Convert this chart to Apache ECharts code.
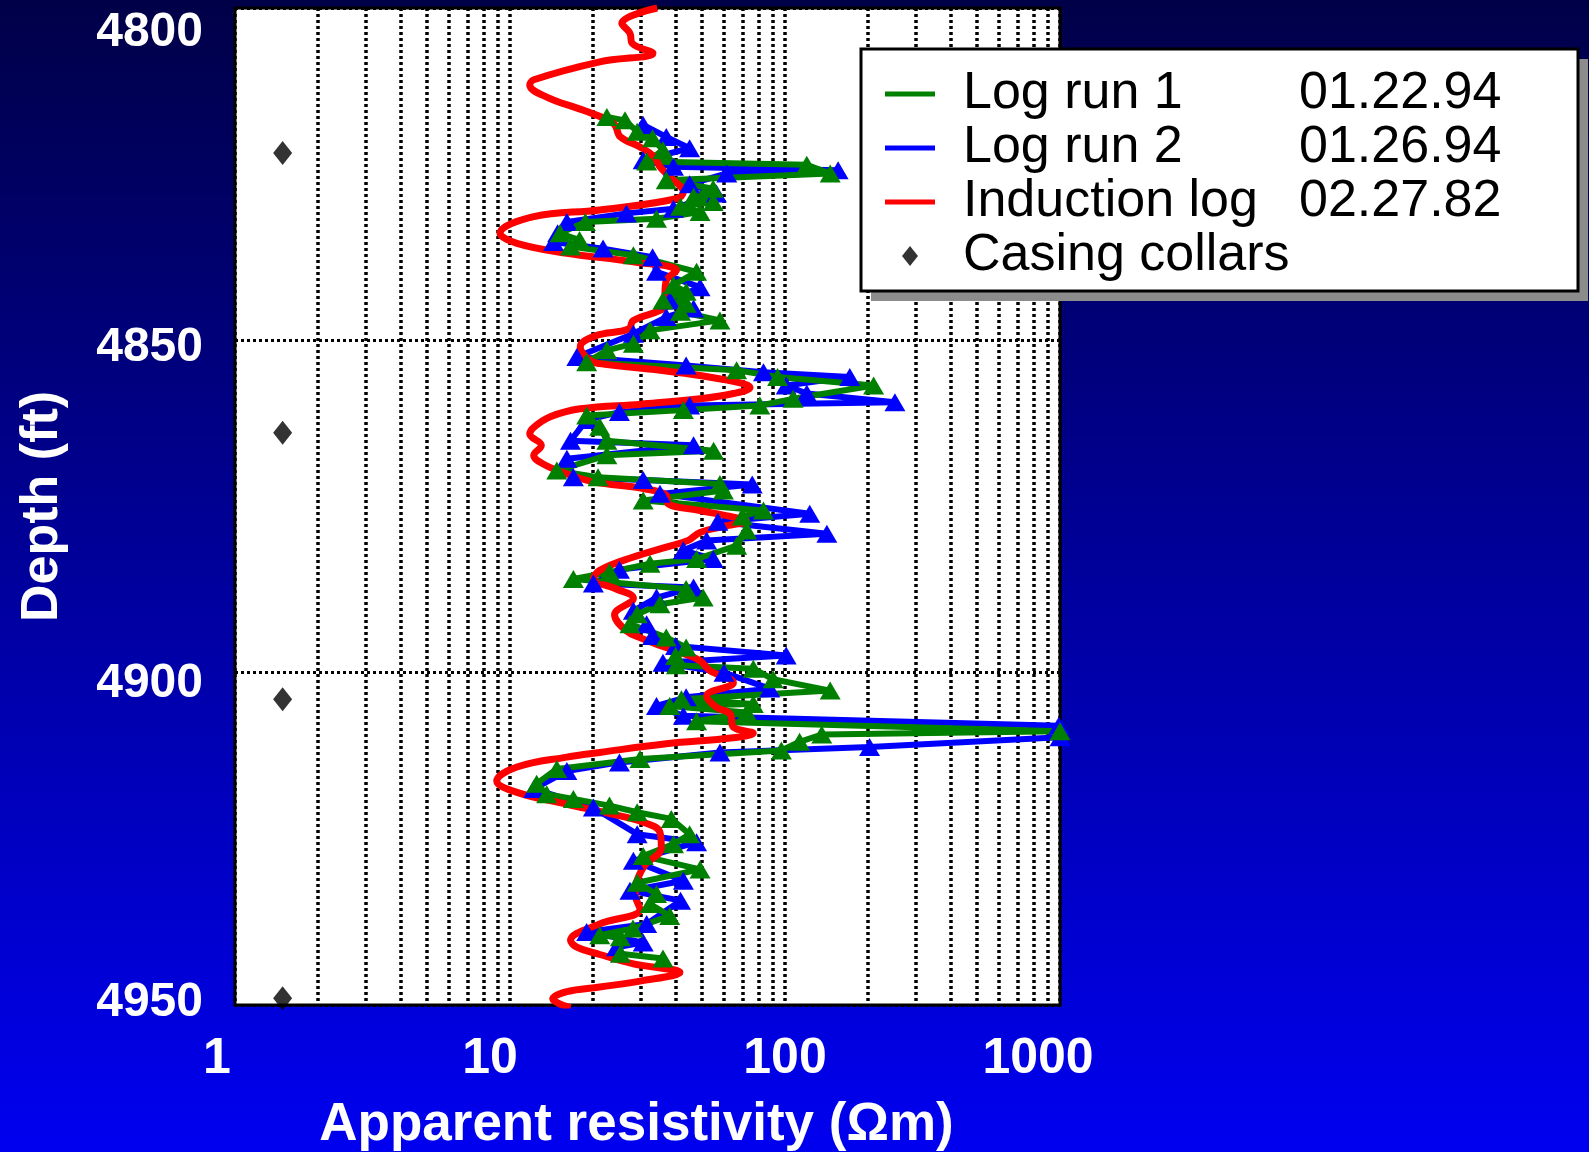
<!DOCTYPE html>
<html>
<head>
<meta charset="utf-8">
<title>Apparent resistivity vs depth</title>
<script src="https://cdn.jsdelivr.net/npm/echarts@6.0.0/dist/echarts.min.js"></script>
<style>
    html, body { margin: 0; padding: 0; }
    #ResistivityLog { width: 1589px; height: 1152px; }
</style>
</head>
<body>
<div id="ResistivityLog"></div>
<script>
// depth (ft) and apparent resistivity (ohm-m)
const run1Depth = [4816.4, 4816.9, 4818.6, 4819.6, 4821.4, 4823.1, 4823.6, 4824.9, 4825.9, 4827.2,
    4828.4, 4829.2, 4829.9, 4830.7, 4831.7, 4832.2, 4833.9, 4834.9, 4835.9, 4837.2,
    4839.7, 4841.7, 4842.7, 4844.0, 4844.5, 4845.7, 4847.0, 4848.5, 4850.5, 4851.5,
    4853.3, 4854.5, 4855.5, 4856.8, 4858.8, 4859.8, 4860.5, 4861.3, 4863.0, 4865.1,
    4866.6, 4867.3, 4869.6, 4870.6, 4871.6, 4872.6, 4874.1, 4875.6, 4876.5, 4878.6,
    4880.9, 4882.9, 4883.6, 4884.9, 4885.9, 4887.4, 4888.7, 4889.7, 4891.2, 4892.7,
    4894.7, 4896.2, 4897.5, 4898.9, 4899.4, 4901.0, 4902.7, 4904.0, 4904.7, 4905.0,
    4906.0, 4907.3, 4908.8, 4909.3, 4910.4, 4911.7, 4913.0, 4914.5, 4916.7, 4918.3,
    4919.0, 4920.0, 4921.0, 4922.0, 4924.3, 4925.8, 4927.6, 4929.6, 4931.6, 4933.3,
    4934.8, 4936.6, 4938.5, 4939.5, 4939.8, 4942.3, 4943.0];
const run1Res = [22.5, 26.2, 29.0, 33, 36.0, 31.4, 120, 146, 37.0, 54.8,
    46.5, 54.8, 41.7, 49.1, 34.1, 18.8, 15.2, 17.9, 16.6, 28.1,
    47.7, 39.3, 43.7, 36.0, 43.7, 41.7, 58.0, 32.3, 28.1, 22.5,
    19.0, 66.7, 94, 210, 107, 81, 42.7, 19.0, 21.2, 22.5,
    55, 22.5, 14.8, 20.9, 58, 59.7, 30.5, 83.5, 70, 72.6,
    66.7, 47.7, 32.3, 23.0, 17.0, 43.7, 50.4, 35.1, 29.0, 27.3,
    37.0, 43.7, 40, 40.3, 76.7, 90.5, 146, 42, 76.7, 38.1,
    72.6, 47.7, 1000, 136, 113, 97, 29.7, 14.8, 12.5, 13.6,
    17.0, 23.0, 29.0, 38.6, 45.0, 39.3, 30.5, 49.1, 29.0, 34.1,
    32.3, 38.1, 28, 21.2, 25.2, 25.2, 36.0];

const run2Depth = [4817.6, 4819.4, 4821.1, 4822.9, 4823.9, 4824.4, 4824.9, 4826.5, 4827.9, 4830.2,
    4830.9, 4832.2, 4833.9, 4835.2, 4836.2, 4837.5, 4839.7, 4842.0, 4844.0, 4845.2,
    4846.5, 4849.0, 4852.5, 4853.8, 4854.8, 4855.5, 4856.8, 4858.0, 4859.3, 4859.8,
    4860.8, 4862.0, 4865.1, 4865.8, 4867.8, 4870.6, 4871.0, 4871.7, 4873.1, 4876.1,
    4877.3, 4879.1, 4880.1, 4881.6, 4882.9, 4884.5, 4886.6, 4887.2, 4888.7, 4890.7,
    4892.7, 4894.5, 4896.0, 4897.4, 4898.5, 4900.0, 4902.4, 4903.7, 4905.0, 4906.5,
    4908.0, 4909.7, 4911.2, 4912.0, 4913.5, 4914.8, 4917.5, 4920.3, 4924.3, 4925.5,
    4928.3, 4931.3, 4932.8, 4934.3, 4937.8, 4939.0, 4940.6, 4941.3];
const run2Res = [30.5, 37.0, 45.0, 30.5, 39.3, 156, 61.4, 45, 56.3, 39.3,
    26.5, 16.1, 14.9, 14.4, 21.8, 33.0, 34.1, 49.1, 38.1, 46.5,
    37.0, 28.1, 17.5, 43.7, 83.5, 172, 101, 120, 251, 45,
    25, 19, 16.6, 46.5, 16.1, 17.0, 30.5, 76, 35.1, 123,
    57, 142, 51.9, 42.7, 54.8, 25, 20.1, 46.5, 34.1, 28.1,
    31.4, 33, 40, 101, 36, 60, 88, 43.7, 34.1, 42.7,
    990, 1000, 203, 58, 25, 16.1, 12.2, 20.1, 29.0, 47.7,
    28.1, 42.7, 27.3, 41.7, 31.4, 19.0, 30.5, 24.4];

const inductionDepth = [4800.0, 4802.3, 4803.8, 4805.3, 4806.8, 4808.1, 4810.8, 4811.6, 4813.4, 4815.4,
    4817.4, 4819.4, 4820.9, 4822.4, 4823.9, 4825.4, 4827.7, 4828.7, 4830.4, 4831.4,
    4833.9, 4835.4, 4836.9, 4838.2, 4839.5, 4841.0, 4843.0, 4844.2, 4845.5, 4847.0,
    4848.3, 4849.3, 4851.0, 4853.0, 4853.5, 4854.5, 4855.3, 4856.5, 4857.1, 4858.0,
    4858.8, 4859.6, 4860.3, 4861.5, 4863.1, 4864.1, 4865.8, 4867.3, 4868.6, 4870.1,
    4871.3, 4872.3, 4873.3, 4874.6, 4875.6, 4876.6, 4877.2, 4877.9, 4878.9, 4880.1,
    4881.1, 4882.6, 4884.6, 4885.9, 4887.3, 4888.8, 4891.3, 4893.7, 4894.8, 4895.9,
    4897.0, 4898.2, 4899.7, 4901.5, 4903.5, 4905.2, 4906.2, 4908.2, 4909.1, 4909.8,
    4910.7, 4912.0, 4912.7, 4914.2, 4916.3, 4918.0, 4919.8, 4921.2, 4922.5, 4924.0,
    4926.3, 4929.3, 4933.3, 4935.6, 4937.8, 4940.3, 4941.3, 4942.4, 4943.8, 4945.1,
    4946.4, 4947.3, 4948.0, 4949.1, 4950.4];
const inductionRes = [34.3, 25.5, 27.3, 27.8, 33.1, 21.2, 12.2, 11.8, 13.6, 18.5,
    23.8, 25.2, 29.7, 33.5, 35.1, 38.1, 42.7, 40.3, 21.2, 12.2,
    9.2, 10.6, 16.1, 28.1, 40.3, 37.0, 36.6, 38.1, 35.1, 28.1,
    27, 20.5, 18.0, 19.5, 21.2, 35.1, 49.1, 70.5, 74.6, 64.9,
    49.1, 30, 18, 14.0, 12.2, 11.8, 13.0, 12.2, 13.2, 16.1,
    20.1, 30.5, 37.0, 37.6, 49.1, 64.9, 72.6, 61.4, 49.1, 44.5,
    37.0, 28.1, 21.2, 20.1, 24, 28.1, 24.0, 26.5, 30, 35.1,
    42, 49.1, 53.3, 64.9, 51.9, 56.3, 63.1, 64.9, 76.7, 64.9,
    37.0, 21.2, 16.1, 10.6, 8.95, 10.6, 16.1, 23, 30.5, 35.1,
    35.5, 30.5, 28.5, 29.7, 21.2, 16.6, 17.5, 21.2, 28.1, 41.5,
    29.7, 21.2, 16.1, 14.3, 16.6];

const collarDepth = [4821.8, 4863.9, 4904.0, 4949.0];
const collarRes = [1.49, 1.49, 1.49, 1.49];

const seriesNames = ['Log run 1', 'Log run 2', 'Induction log', 'Casing collars'];
const runDates = ['01.22.94', '01.26.94', '02.27.82', ''];
const xTicks = [1, 10, 100, 1000];
const yTicks = [4800, 4850, 4900, 4950];
// minor decade lines of the log grid
const minorGrid = [2, 3, 4, 5, 6, 7, 8, 9, 20, 30, 40, 50, 60, 70, 80, 90, 200, 300, 400, 500, 600, 700, 800, 900];

const FONT = 'Liberation Sans, Arial, sans-serif';
const pairs = (xs, ys) => xs.map((x, i) => [x, ys[i]]);
const dotted = { color: '#000', width: 3, type: [3, 3], opacity: 1 };
// vertical lines land between pixels on the log scale, a bit heavier keeps them as dark
const dottedV = { ...dotted, width: 3.5 };

const xLab = { color: '#fff', fontSize: 50, fontWeight: 'bold', fontFamily: FONT };
const yLab = { color: '#fff', fontSize: 48, fontWeight: 'bold', fontFamily: FONT };
const legText = { color: '#000', fontSize: 52, fontFamily: FONT, lineHeight: 54 };

const myChart = echarts.init(document.getElementById('ResistivityLog'));
const option = {
    animation: false,
    backgroundColor: {
        type: 'linear', x: 0, y: 0, x2: 0, y2: 1,
        colorStops: [
            { offset: 0, color: '#000048' },
            { offset: 1, color: '#0000f0' }
        ]
    },
    grid: {
        left: 235,
        right: 529,
        top: 8,
        bottom: 147,
        show: true,
        backgroundColor: '#fff',
        borderColor: '#000',
        borderWidth: 3,
        outerBoundsMode: 'none'
    },
    // drop shadow behind the legend box
    graphic: [
        {
            type: 'rect',
            left: 871,
            top: 59,
            z: 3,
            silent: true,
            shape: { width: 717, height: 242 },
            style: { fill: '#8c8c8c' }
        }
    ],
    legend: {
        data: seriesNames.map((n, i) => ({
            name: n,
            icon: i < 3 ? 'path://M0,0H50V5H0Z' : 'path://M8,0L16,10L8,20L0,10Z'
        })),
        orient: 'vertical',
        left: 861,
        top: 49,
        z: 4,
        itemWidth: 50,
        itemHeight: 20,
        itemGap: 0,
        padding: [18, 29, 8, 24],
        backgroundColor: '#fff',
        borderColor: '#000',
        borderWidth: 3,
        selectedMode: false,
        formatter: function (name) {
            const i = seriesNames.indexOf(name);
            return '{n|' + name + '}' + (runDates[i] ? '{d|' + runDates[i] + '}' : '');
        },
        textStyle: {
            ...legText,
            padding: [0, 0, 0, 23],
            rich: {
                n: { ...legText, width: 336 },
                d: { ...legText, width: 250 }
            }
        }
    },
    xAxis: {
        type: 'log',
        logBase: 10,
        min: 1,
        max: 1000,
        name: 'Apparent resistivity (Ωm)',
        nameLocation: 'middle',
        nameGap: 94,
        nameTextStyle: { ...xLab, fontSize: 53, padding: [0, 22, 0, 0] },
        axisLine: { show: false },
        axisTick: { show: false },
        axisLabel: {
            margin: 29,
            ...xLab,
            // labels sit a little off their ticks in the original
            formatter: function (v) {
                const i = xTicks.indexOf(Math.round(v));
                return '{l' + i + '|' + Math.round(v) + '}';
            },
            rich: {
                l0: { ...xLab, padding: [0, 36, 0, 0] },
                l1: { ...xLab, padding: [0, 40, 0, 0] },
                l2: { ...xLab, padding: [0, 0, 0, 0] },
                l3: { ...xLab, padding: [0, 44, 0, 0] }
            }
        },
        splitLine: { show: true, lineStyle: dottedV }
    },
    yAxis: {
        type: 'value',
        inverse: true,
        min: 4800,
        max: 4950,
        interval: 50,
        name: 'Depth (ft)',
        nameLocation: 'middle',
        nameRotate: 90,
        nameGap: 166,
        nameTextStyle: { ...yLab, fontSize: 52 },
        axisLine: { show: false },
        axisTick: { show: false },
        axisLabel: {
            margin: 32,
            ...yLab,
            formatter: function (v) {
                return '{y' + yTicks.indexOf(v) + '|' + v + '}';
            },
            rich: {
                y0: { ...yLab, padding: [50, 0, 0, 0] },
                y1: { ...yLab, padding: [14, 0, 0, 0] },
                y2: { ...yLab, padding: [22, 0, 0, 0] },
                y3: { ...yLab, padding: [0, 0, 4, 0] }
            }
        },
        splitLine: { show: true, lineStyle: dotted }
    },
    series: [
        {
            name: 'Casing collars',
            type: 'scatter',
            data: pairs(collarRes, collarDepth),
            symbol: 'diamond',
            symbolSize: [19, 24],
            itemStyle: { color: '#000' },
            markLine: {
                silent: true,
                z: 1,
                symbol: 'none',
                label: { show: false },
                lineStyle: dottedV,
                emphasis: { disabled: true },
                data: minorGrid.map(v => ({ xAxis: v }))
            }
        },
        {
            name: 'Log run 2',
            type: 'line',
            data: pairs(run2Res, run2Depth),
            symbol: 'triangle',
            symbolSize: [21, 18],
            lineStyle: { color: '#0000ff', width: 6 },
            itemStyle: { color: '#0000ff', borderWidth: 0 }
        },
        {
            name: 'Log run 1',
            type: 'line',
            data: pairs(run1Res, run1Depth),
            symbol: 'triangle',
            symbolSize: [21, 18],
            lineStyle: { color: '#008000', width: 6 },
            itemStyle: { color: '#008000', borderWidth: 0 }
        },
        {
            name: 'Induction log',
            type: 'line',
            data: pairs(inductionRes, inductionDepth),
            smooth: 0.4,
            showSymbol: false,
            lineStyle: { color: '#ff0000', width: 7 },
            itemStyle: { color: '#ff0000' }
        }
    ]
};
myChart.setOption(option);
window.addEventListener('resize', () => {
    myChart.resize();
});
</script>
</body>
</html>
